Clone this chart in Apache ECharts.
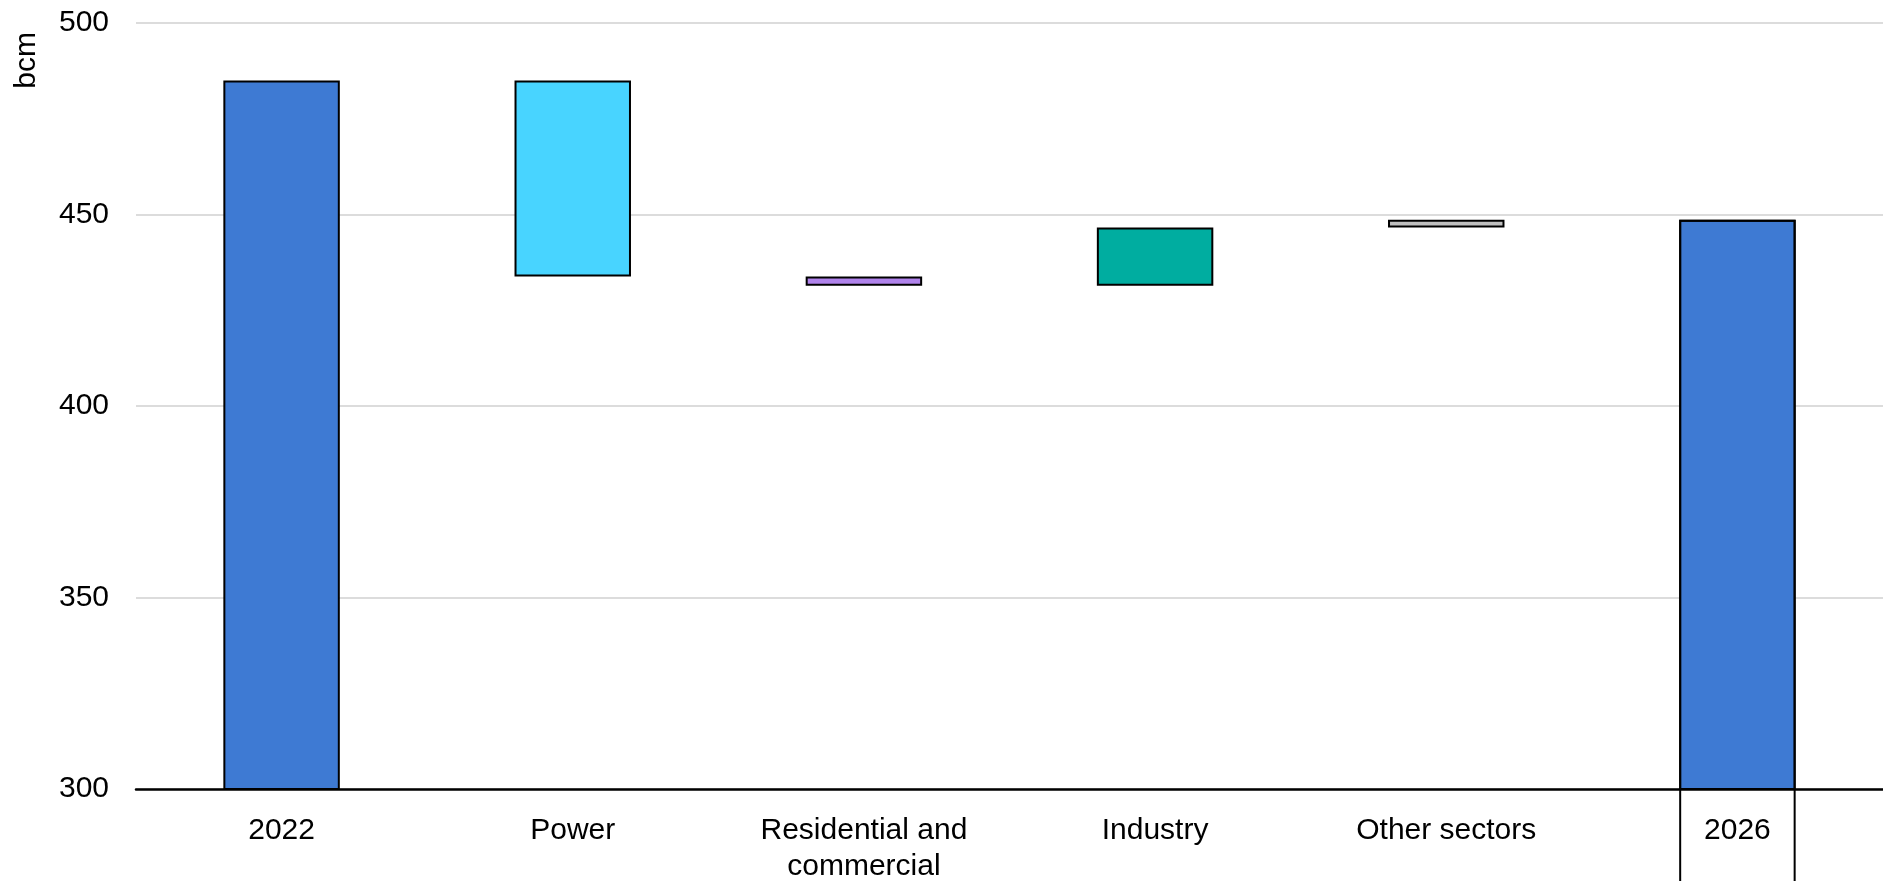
<!DOCTYPE html>
<html>
<head>
<meta charset="utf-8">
<script src="https://cdn.jsdelivr.net/npm/echarts@6/dist/echarts.min.js"></script>
<style>
html,body{margin:0;padding:0;background:#fff;}
#chart{width:1883px;height:881px;}
</style>
</head>
<body>
<div id="chart"></div>
<script>
// ---- data ----
const categories = ['2022', 'Power', 'Residential and\ncommercial', 'Industry', 'Other sectors', '2026'];
const startTotal = 485.0;          // 2022 demand, bcm
const sectorChanges = [-51.2, -2.4, 15.2, 2.0]; // Power, Residential & commercial, Industry, Other sectors
const endTotal = 448.6;            // 2026 demand, bcm
const barColors = ['#3e7ad3', '#48d4ff', '#b083eb', '#00ada0', '#c0c0c0', '#3e7ad3'];
const yTicks = { min: 300, max: 500, interval: 50 };
const yUnit = 'bcm';

// ---- build waterfall from data ----
const baseData = [0];
const barData = [startTotal];
let running = startTotal;
sectorChanges.forEach(d => {
  const next = running + d;
  baseData.push(Math.min(running, next));
  barData.push(Math.abs(d));
  running = next;
});
baseData.push(0);
barData.push(endTotal);

const visibleData = barData.map((v, i) => ({ value: v, itemStyle: { color: barColors[i] } }));
const outlineData = categories.map((c, i) => i === categories.length - 1 ? endTotal : null);

const chart = echarts.init(document.getElementById('chart'), null, { renderer: 'canvas' });
const FONT = 'Liberation Sans, Arial, sans-serif';
chart.setOption({
  animation: false,
  backgroundColor: '#ffffff',
  grid: { left: 136, right: 0, top: 23, bottom: 92, containLabel: false, outerBoundsMode: 'none' },
  xAxis: {
    type: 'category',
    data: categories,
    axisLine: { lineStyle: { color: '#000', width: 2.5 } },
    axisTick: { show: false },
    axisLabel: { color: '#000', fontSize: 30, fontFamily: FONT, margin: 24, lineHeight: 36, interval: 0 },
    z: 1
  },
  yAxis: {
    type: 'value',
    min: yTicks.min, max: yTicks.max, interval: yTicks.interval,
    axisLine: { show: false },
    axisTick: { show: false },
    splitLine: { lineStyle: { color: '#dcdcdc', width: 2 } },
    axisLabel: { color: '#000', fontSize: 30, fontFamily: FONT, margin: 27 }
  },
  graphic: [{
    type: 'text',
    x: 27, y: 32,
    rotation: Math.PI / 2,
    style: { text: yUnit, fill: '#000', font: '30px ' + FONT, textAlign: 'right', textVerticalAlign: 'middle' }
  }],
  series: [
    {
      type: 'bar', stack: 'w', barWidth: '40%', silent: true,
      itemStyle: { color: 'rgba(0,0,0,0)', borderWidth: 0 },
      data: baseData
    },
    {
      type: 'bar', stack: 'w', barWidth: '40%', silent: true,
      itemStyle: { borderColor: '#000', borderWidth: 2 },
      data: visibleData
    },
    {
      type: 'bar', barWidth: '40%', barGap: '-100%', silent: true, clip: false,
      itemStyle: { color: 'rgba(0,0,0,0)', borderColor: '#000', borderWidth: 2 },
      data: outlineData
    }
  ]
});
</script>
</body>
</html>
